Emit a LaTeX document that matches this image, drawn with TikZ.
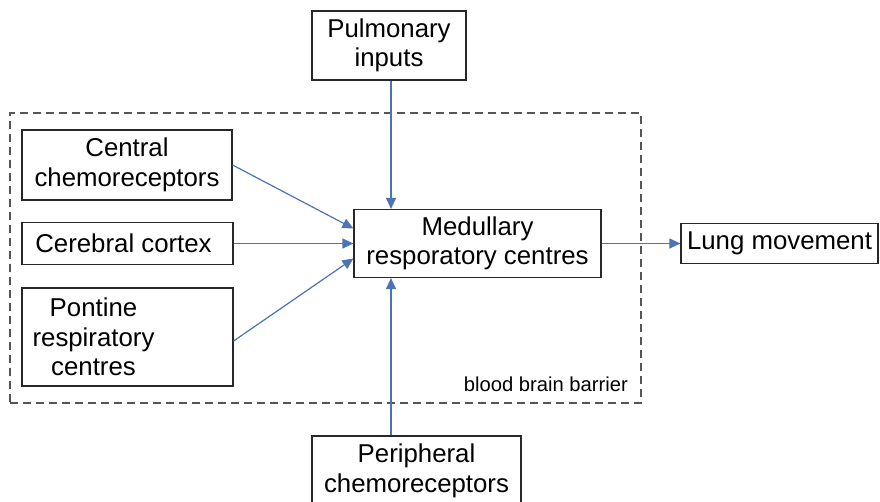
\documentclass[tikz,border=0pt]{standalone}
\usepackage{fontspec}
\setmainfont{Liberation Sans}
\usetikzlibrary{arrows.meta}
\definecolor{arrowblue}{RGB}{74,116,180}
\definecolor{boxline}{RGB}{40,40,40}
\definecolor{dashgray}{RGB}{85,85,85}
\begin{document}
\begin{tikzpicture}[x=1pt,y=-1pt,
  mainfont/.style={font=\fontsize{25.8}{29.5}\selectfont},
  box/.style={draw=boxline,line width=1.2pt,rectangle,inner sep=0pt,align=center,mainfont},
  conn/.style={draw=arrowblue,line width=1.2pt,-{Triangle[length=11pt,width=10pt]}}]
\useasboundingbox (0,0) rectangle (880,501);
\node[draw=dashgray,line width=1.2pt,dash pattern=on 8pt off 5pt,rectangle,inner sep=0pt,
  minimum width=631pt,minimum height=290pt] (bbb) at (325.5,258) {};
\node[anchor=east,inner sep=0pt,font=\fontsize{20.2}{24}\selectfont] (bbblabel) at (628,384) {blood brain barrier};
\node[box,minimum width=154pt,minimum height=69pt] (pulm) at (389,45.5) {Pulmonary\\inputs};
\node[box,minimum width=210pt,minimum height=70pt] (central) at (127,165) {Central\\chemoreceptors};
\node[box,minimum width=211pt,minimum height=42pt] (cortex) at (127.5,243.5) {\hspace*{-8pt}Cerebral cortex};
\node[box,minimum width=211pt,minimum height=98pt] (pontine) at (127.5,337) {};
\node[inner sep=0pt,align=center,mainfont] (pontinetext) at (93.5,337) {Pontine\\respiratory\\centres};
\node[box,minimum width=247pt,minimum height=68pt] (med) at (477.5,243.5) {Medullary\\resporatory centres};
\node[box,minimum width=197pt,minimum height=40pt] (lung) at (779.5,243.5) {Lung movement};
\node[box,minimum width=209pt,minimum height=70pt] (periph) at (416.5,471) {Peripheral\\chemoreceptors};
\draw[conn] ([xshift=2pt]pulm.south) -- ([xshift=2pt]pulm.south |- med.north);
\draw[conn] (central.east) -- ([yshift=15pt]med.west);
\draw[conn] (cortex.east) -- (med.west);
\draw[conn] ([yshift=-4pt]pontine.east) -- ([yshift=-15pt]med.west);
\draw[conn] (med.east) -- (lung.west);
\draw[conn] ([xshift=2pt]pulm.south |- periph.north) -- ([xshift=2pt]pulm.south |- med.south);
\end{tikzpicture}
\end{document}
